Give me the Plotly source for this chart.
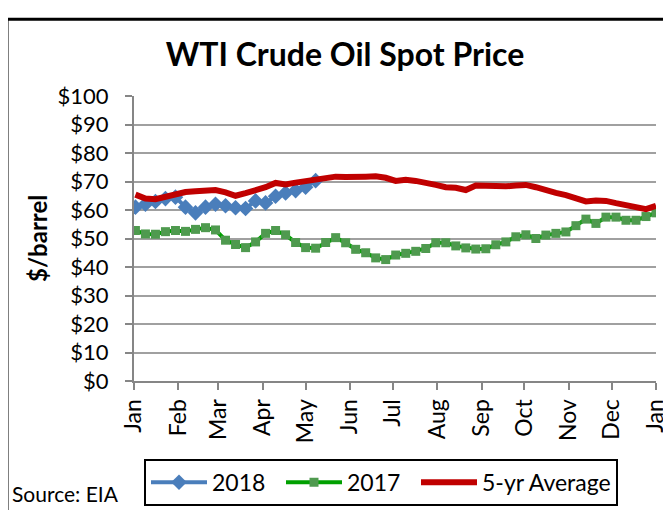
import pandas as pd
import plotly.graph_objects as go

# ---- data (weekly values, $/barrel) ----
start_date = "2018-01-02"
months = ["Jan", "Feb", "Mar", "Apr", "May", "Jun", "Jul", "Aug", "Sep", "Oct", "Nov", "Dec", "Jan"]

wti_2018 = [61, 62, 63, 64, 64.5, 61, 59, 61, 62, 61.5, 60.8, 60.5, 63.2, 62.5,
            64.8, 66, 66.8, 68, 70.3]

wti_2017 = [52.8, 51.6, 51.5, 52.4, 52.8, 52.5, 53.2, 53.8, 53.0, 49.4, 47.9, 46.8,
            48.8, 51.8, 52.8, 51.3, 48.6, 46.8, 46.6, 48.6, 50.3, 48.5, 46.2, 45.0,
            43.2, 42.6, 44.2, 44.8, 45.5, 46.5, 48.5, 48.5, 47.4, 46.7, 46.3, 46.4,
            47.8, 48.8, 50.6, 51.3, 50.0, 51.2, 51.8, 52.3, 54.5, 56.8, 55.3, 57.5,
            57.5, 56.4, 56.4, 57.7, 59.0]

avg_5yr = [65.4, 64.0, 63.8, 64.7, 65.8, 66.3, 66.6, 67.0, 67.0, 66.2, 65.0, 65.9,
           66.8, 68.0, 69.5, 69.0, 69.6, 70.2, 70.8, 71.3, 71.7, 71.6, 71.4, 71.7,
           71.8, 71.3, 70.2, 70.6, 70.2, 69.7, 68.8, 68.0, 67.8, 67.0, 68.6, 68.5,
           68.3, 68.3, 68.6, 68.8, 68.0, 66.8, 66.0, 65.2, 64.0, 63.0, 63.3, 63.2,
           62.4, 61.6, 60.8, 60.3, 61.5]


def weeks(n):
    return pd.date_range(start_date, periods=n, freq="7D")


FONT = "Lato"

fig = go.Figure()
fig.add_trace(go.Scatter(
    x=weeks(len(wti_2018)), y=wti_2018, name="2018", mode="lines+markers",
    line=dict(color="#4a7ebb", width=4),
    marker=dict(symbol="diamond", size=12, color="#4a7ebb"),
    legendwidth=64,
))
fig.add_trace(go.Scatter(
    x=weeks(len(wti_2017)), y=wti_2017, name="2017", mode="lines+markers",
    line=dict(color="#00a000", width=4),
    marker=dict(symbol="square", size=9, color="#4f9a4f"),
    legendwidth=64,
))
fig.add_trace(go.Scatter(
    x=weeks(len(avg_5yr)), y=avg_5yr, name="5-yr Average", mode="lines",
    line=dict(color="#c00000", width=6),
))

L, R, T, B = 126, 23, 88, 129
W, H = 671, 510
pw, ph = W - L - R, H - T - B


def px_x(px):
    return (px - L) / pw


def px_y(py):
    return (H - B - py) / ph


fig.update_layout(
    width=W, height=H, autosize=False,
    margin=dict(l=L, r=R, t=T, b=B),
    paper_bgcolor="white", plot_bgcolor="white",
    font=dict(family=FONT, color="black", size=22),
    title=dict(text="<b>WTI Crude Oil Spot Price</b>", x=337 / W, xanchor="center",
               y=1 - 47 / H, yanchor="middle", font=dict(size=32, family=FONT)),
    showlegend=True,
    legend=dict(orientation="h", x=px_x(136), y=px_y(461), xanchor="left", yanchor="top",
                bordercolor="black", borderwidth=2, bgcolor="white",
                font=dict(size=23, family=FONT), itemwidth=56, traceorder="normal"),
)

fig.update_xaxes(
    type="date", range=["2018-01-01", "2019-01-01"],
    tickmode="array",
    tickvals=pd.date_range("2018-01-01", periods=len(months), freq="MS"),
    ticktext=months, tickangle=-90,
    ticks="outside", ticklen=7, tickwidth=2, tickcolor="#868686",
    showline=True, linecolor="#868686", linewidth=2,
    showgrid=False, zeroline=False,
    tickfont=dict(size=23, family=FONT),
)
fig.update_yaxes(
    range=[0, 100], dtick=10, tick0=0, tickprefix="$",
    ticks="outside", ticklen=7, tickwidth=2, tickcolor="#868686",
    showline=True, linecolor="#868686", linewidth=2,
    showgrid=True, gridcolor="#a0a0a0", gridwidth=2, zeroline=False,
    tickfont=dict(size=22, family=FONT), ticklabelstandoff=12,
)

fig.add_annotation(text="<b>$/barrel</b>", xref="paper", yref="paper",
                   x=px_x(30), y=px_y(235), textangle=-90, showarrow=False,
                   xanchor="center", yanchor="middle", font=dict(size=24, family=FONT))
fig.add_annotation(text="Source: EIA", xref="paper", yref="paper",
                   x=px_x(2), y=px_y(497), showarrow=False,
                   xanchor="left", yanchor="middle", font=dict(size=21, family=FONT))

fig.add_shape(type="rect", xref="paper", yref="paper",
              x0=px_x(-1), x1=px_x(690), y0=px_y(530), y1=px_y(9),
              line=dict(color="black", width=3), fillcolor="rgba(0,0,0,0)", layer="below")

fig.write_html("out.html")
